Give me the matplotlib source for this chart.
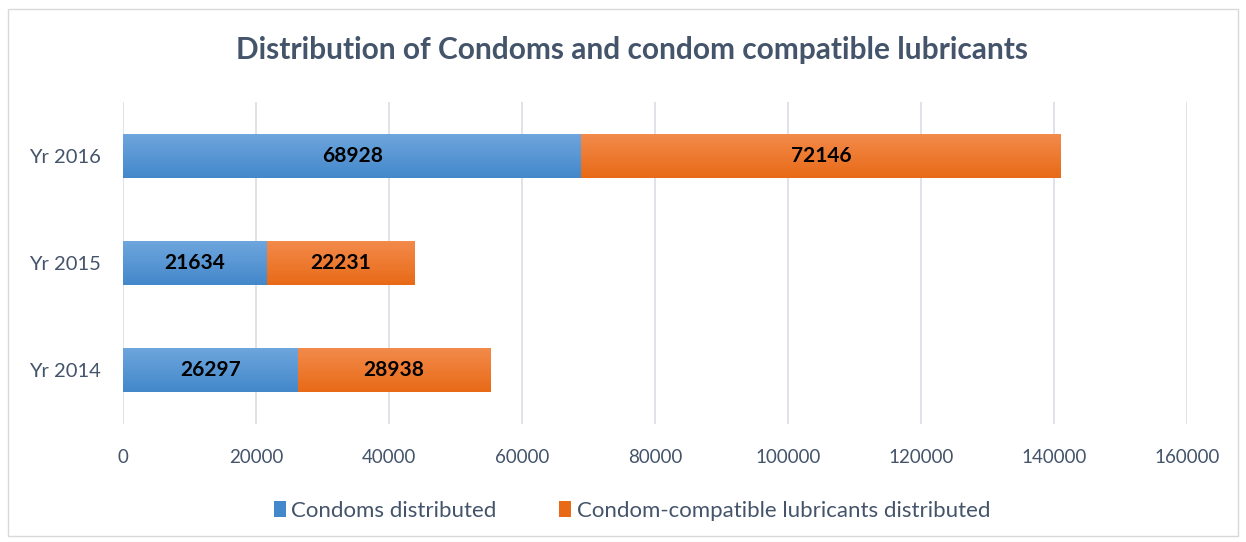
import numpy as np
import matplotlib
matplotlib.use("Agg")
import matplotlib.pyplot as plt
from matplotlib.colors import LinearSegmentedColormap
from matplotlib.patches import Rectangle, Patch

plt.rcParams["font.family"] = ["Lato", "DejaVu Sans"]

years = ["Yr 2014", "Yr 2015", "Yr 2016"]
condoms = [26297, 21634, 68928]
lubricants = [28938, 22231, 72146]
series_names = ["Condoms distributed", "Condom-compatible lubricants distributed"]
xticks = [0, 20000, 40000, 60000, 80000, 100000, 120000, 140000, 160000]

TEXT = "#44546A"
BLUE = ("#6FA6DD", "#4388CB")
ORANGE = ("#F38B4C", "#E86A17")

W, H = 1246, 542
fig = plt.figure(figsize=(W / 100, H / 100), dpi=100)
ax = fig.add_axes([123 / W, (H - 424) / H, (1187 - 123) / W, (424 - 102) / H])

y = np.arange(len(years))
h = 0.41


def gradient_bars(bars, cols):
    # Excel-style vertical gradient: light at top, darker at bottom
    cmap = LinearSegmentedColormap.from_list("g", [cols[1], cols[0]])
    grad = np.linspace(0, 1, 64).reshape(-1, 1)
    for b in bars:
        x0, y0 = b.get_x(), b.get_y()
        im = ax.imshow(grad, cmap=cmap, aspect="auto", origin="lower",
                       extent=(x0, x0 + b.get_width(), y0, y0 + b.get_height()),
                       zorder=3)
        im.set_clip_path(b)
        b.set_facecolor("none")


b1 = ax.barh(y, condoms, height=h, color=BLUE[1], zorder=3)
b2 = ax.barh(y, lubricants, left=condoms, height=h, color=ORANGE[1], zorder=3)
gradient_bars(b1, BLUE)
gradient_bars(b2, ORANGE)

for yi, c, l in zip(y, condoms, lubricants):
    ax.text(c / 2, yi, str(c), ha="center", va="center", fontsize=15,
            fontweight="bold", color="black", zorder=5)
    ax.text(c + l / 2, yi, str(l), ha="center", va="center", fontsize=15,
            fontweight="bold", color="black", zorder=5)

ax.set_xlim(0, 160000)
ax.set_ylim(-0.5, 2.5)
ax.set_xticks(xticks)
ax.set_xticklabels([str(t) for t in xticks])
ax.set_yticks(y)
ax.set_yticklabels(years)
ax.tick_params(length=0, labelsize=13.5, colors=TEXT)
ax.tick_params(axis="y", pad=16, labelsize=14.5)
ax.tick_params(axis="x", pad=18)
ax.grid(axis="x", color="#D9DDE3", linewidth=1.2, zorder=0)
ax.set_axisbelow(True)
for sp in ax.spines.values():
    sp.set_visible(False)

fig.text(632 / W, 1 - 50 / H, "Distribution of Condoms and condom compatible lubricants",
         ha="center", va="center", fontsize=21.5, fontweight="bold", color=TEXT)

handles = [Patch(facecolor=BLUE[1]), Patch(facecolor=ORANGE[1])]
fig.legend(handles, series_names, loc="center", bbox_to_anchor=(632 / W, 1 - 511 / H),
           ncol=2, frameon=False, fontsize=16, labelcolor=TEXT, handlelength=0.55,
           handleheight=0.7, handletextpad=0.25, columnspacing=2.8)

fig.patches.append(Rectangle((8 / W, 1 - 536 / H), (1238 - 8) / W, (536 - 9) / H,
                             transform=fig.transFigure, fill=False,
                             edgecolor="#D9D9D9", linewidth=1))

fig.savefig("out.png", dpi=100)
